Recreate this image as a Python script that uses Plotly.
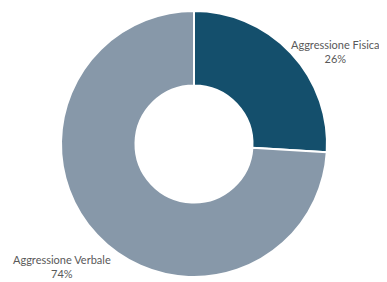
import plotly.graph_objects as go

categories = ["Aggressione Fisica", "Aggressione Verbale"]
values = [26, 74]
colors = ["#144f6c", "#8798a9"]
label_pos = [(0.865, 0.84), (0.142, 0.055)]

W, H = 379, 274
fig = go.Figure(go.Pie(
    labels=categories, values=values, hole=0.44, sort=False,
    direction="clockwise", rotation=0,
    marker=dict(colors=colors, line=dict(color="white", width=2)),
    textinfo="none", hoverinfo="label+percent", showlegend=False,
    domain=dict(x=[53/W, 319/W], y=[1-269/H, 1-3/H]),
))
total = sum(values)
for cat, v, (x, y) in zip(categories, values, label_pos):
    fig.add_annotation(x=x, y=y, xref="paper", yref="paper", showarrow=False,
                       xanchor="center", yanchor="middle",
                       text=f"{cat}<br>{round(100*v/total)}%", align="center",
                       font=dict(family="Lato", size=11, color="#595959"))
fig.update_layout(width=W, height=H, margin=dict(l=0, r=0, t=0, b=0),
                  paper_bgcolor="white", plot_bgcolor="white")
fig.write_html("out.html")
